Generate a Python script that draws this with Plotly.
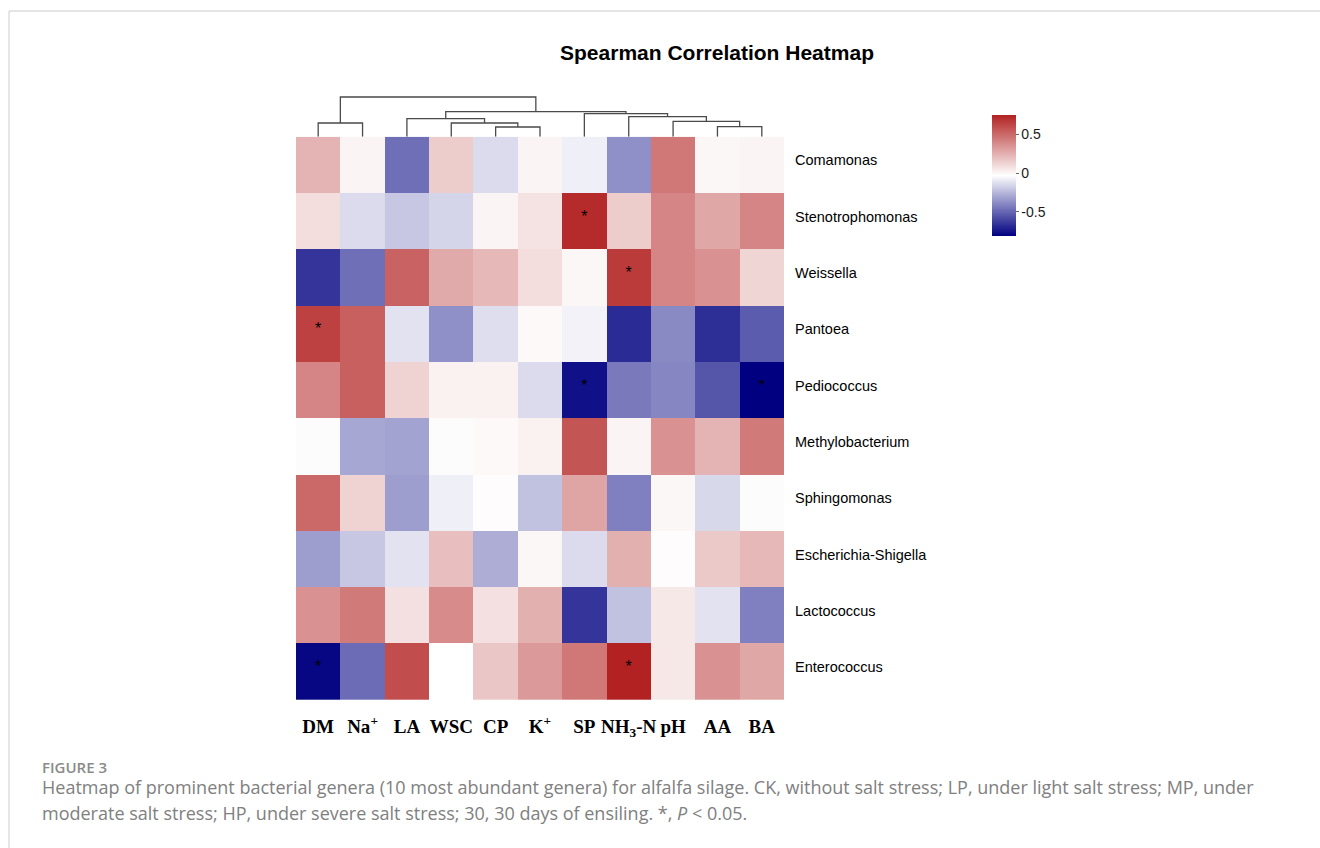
import plotly.graph_objects as go

W, H = 1320, 848

# ---- data -------------------------------------------------------------
genera = [
    "Comamonas", "Stenotrophomonas", "Weissella", "Pantoea", "Pediococcus",
    "Methylobacterium", "Sphingomonas", "Escherichia-Shigella", "Lactococcus",
    "Enterococcus",
]

variables = [
    "DM", "Na<sup>+</sup>", "LA", "WSC", "CP", "K<sup>+</sup>", "SP",
    "NH<sub>3</sub>-N", "pH", "AA", "BA",
]

# Spearman rho, rows = genera, columns = variables (clustered column order)
rho = [
    [0.24, 0.01, -0.47, 0.15, -0.14, 0.01, -0.08, -0.37, 0.45, 0.00, 0.01],
    [0.09, -0.14, -0.20, -0.16, 0.01, 0.07, 0.72, 0.15, 0.40, 0.28, 0.40],
    [-0.65, -0.47, 0.52, 0.27, 0.22, 0.09, 0.00, 0.66, 0.40, 0.36, 0.12],
    [0.64, 0.53, -0.12, -0.37, -0.13, -0.01, -0.07, -0.68, -0.39, -0.67, -0.53],
    [0.40, 0.53, 0.13, 0.02, 0.02, -0.14, -0.76, -0.44, -0.40, -0.55, -0.81],
    [-0.04, -0.30, -0.31, -0.04, -0.01, 0.02, 0.57, 0.01, 0.36, 0.24, 0.44],
    [0.50, 0.13, -0.33, -0.08, -0.02, -0.22, 0.29, -0.42, 0.00, -0.15, -0.04],
    [-0.33, -0.20, -0.12, 0.20, -0.28, 0.00, -0.14, 0.25, -0.02, 0.16, 0.22],
    [0.36, 0.44, 0.08, 0.38, 0.08, 0.25, -0.65, -0.22, 0.05, -0.12, -0.42],
    [-0.79, -0.48, 0.60, -0.03, 0.17, 0.33, 0.45, 0.75, 0.05, 0.36, 0.28],
]

# cells with P < 0.05 as (row, column)
significant = [(1, 6), (2, 7), (3, 0), (4, 6), (4, 10), (9, 0), (9, 7)]

# column clustering: (left node, right node, merge height); leaves 0..10,
# each merge creates node 11, 12, ...
column_linkage = [
    (0, 1, 13.7),
    (4, 5, 9.7),
    (3, 12, 13.7),
    (2, 13, 18.0),
    (9, 10, 10.0),
    (8, 15, 15.4),
    (7, 16, 20.0),
    (6, 17, 23.0),
    (14, 18, 25.0),
    (11, 19, 39.7),
]

colorbar_ticks = [-0.5, 0, 0.5]
colorbar_ticktext = ["-0.5", "0", "0.5"]
z_min, z_max = -0.81, 0.75

# ---- layout geometry (pixels) ----------------------------------------
hm_left, hm_right = 296, 784
hm_top, hm_bottom = 136.7, 700
dendro_top = 96

def py(y):
    return 1 - y / H

n_rows, n_cols = len(genera), len(variables)

# ---- dendrogram segments ---------------------------------------------
pos = {i: float(i) for i in range(n_cols)}
hgt = {i: 0.0 for i in range(n_cols)}
dx, dy = [], []
for k, (a, b, h) in enumerate(column_linkage):
    xa, xb = pos[a], pos[b]
    dx += [xa, xa, xb, xb, None]
    dy += [hgt[a], h, h, hgt[b], None]
    node = n_cols + k
    pos[node] = (xa + xb) / 2
    hgt[node] = h

fig = go.Figure()

fig.add_trace(go.Heatmap(
    z=rho,
    x=list(range(n_cols)),
    y=list(range(n_rows)),
    zmin=z_min, zmax=z_max,
    colorscale=[[0, "#000080"], [0.5, "#ffffff"], [1, "#b22222"]],
    xgap=0, ygap=0,
    hovertemplate="%{z:.2f}<extra></extra>",
    colorbar=dict(
        x=992 / W, xanchor="left", xpad=0,
        y=py(115), yanchor="top", ypad=0,
        len=121 / H, lenmode="fraction",
        thickness=24, thicknessmode="pixels",
        outlinewidth=0,
        tickvals=colorbar_ticks, ticktext=colorbar_ticktext,
        ticks="outside", ticklen=3, tickcolor="#666666",
        tickfont=dict(family="Liberation Sans, Arial", size=14, color="#1a1a1a"),
    ),
))

fig.add_trace(go.Scatter(
    x=[c for r, c in significant],
    y=[r - 0.06 for r, c in significant],
    mode="text",
    text=["*"] * len(significant),
    textposition="middle center",
    textfont=dict(family="Liberation Sans, Arial", size=16, color="#000000"),
    hoverinfo="skip",
    showlegend=False,
))

fig.add_trace(go.Scatter(
    x=dx, y=dy,
    mode="lines",
    line=dict(color="#4a4a4a", width=1.3),
    xaxis="x2", yaxis="y2",
    hoverinfo="skip",
    showlegend=False,
))

fig.update_layout(
    width=W, height=H,
    margin=dict(l=0, r=0, t=0, b=0),
    paper_bgcolor="white",
    plot_bgcolor="white",
    showlegend=False,
    xaxis=dict(
        domain=[hm_left / W, hm_right / W],
        range=[-0.5, n_cols - 0.5],
        tickvals=list(range(n_cols)),
        ticktext=variables,
        tickfont=dict(family="Liberation Serif, Times New Roman", size=19,
                      color="#000000", weight="bold"),
        ticks="", showgrid=False, zeroline=False, showline=False,
        ticklabelstandoff=13,
        anchor="y",
    ),
    yaxis=dict(
        domain=[py(hm_bottom), py(hm_top)],
        range=[n_rows - 0.5, -0.5],
        tickvals=[r - 0.08 for r in range(n_rows)],
        ticktext=genera,
        side="right",
        tickfont=dict(family="Liberation Sans, Arial", size=14.5, color="#000000"),
        ticks="", showgrid=False, zeroline=False, showline=False,
        ticklabelstandoff=10,
        anchor="x",
    ),
    xaxis2=dict(
        domain=[hm_left / W, hm_right / W],
        range=[-0.5, n_cols - 0.5],
        visible=False, anchor="y2",
    ),
    yaxis2=dict(
        domain=[py(hm_top), py(dendro_top)],
        range=[0, hm_top - dendro_top],
        visible=False, anchor="x2",
    ),
    title=dict(
        text="Spearman Correlation Heatmap",
        x=717 / W, xanchor="center",
        y=py(53), yanchor="middle",
        font=dict(family="Liberation Sans, Arial", size=21, color="#000000",
                  weight="bold"),
    ),
    shapes=[
        dict(type="line", xref="paper", yref="paper",
             x0=9 / W, x1=1, y0=py(11), y1=py(11),
             line=dict(color="#cccccc", width=1)),
        dict(type="line", xref="paper", yref="paper",
             x0=9 / W, x1=9 / W, y0=py(11), y1=0,
             line=dict(color="#cccccc", width=1)),
    ],
    annotations=[
        dict(text="FIGURE 3", xref="paper", yref="paper",
             x=40 / W, y=py(767), xanchor="left", yanchor="middle",
             showarrow=False,
             font=dict(family="Open Sans", size=15, color="#8a8a8a", weight=600)),
        dict(text="Heatmap of prominent bacterial genera (10 most abundant genera) "
                  "for alfalfa silage. CK, without salt stress; LP, under light salt "
                  "stress; MP, under",
             xref="paper", yref="paper",
             x=40 / W, y=py(787), xanchor="left", yanchor="middle",
             showarrow=False,
             font=dict(family="Open Sans", size=18, color="#808080")),
        dict(text="moderate salt stress; HP, under severe salt stress; 30, 30 days "
                  "of ensiling. *, <i>P</i> &lt; 0.05.",
             xref="paper", yref="paper",
             x=40 / W, y=py(813), xanchor="left", yanchor="middle",
             showarrow=False,
             font=dict(family="Open Sans", size=18, color="#808080")),
    ],
)

fig.write_html("out.html")
